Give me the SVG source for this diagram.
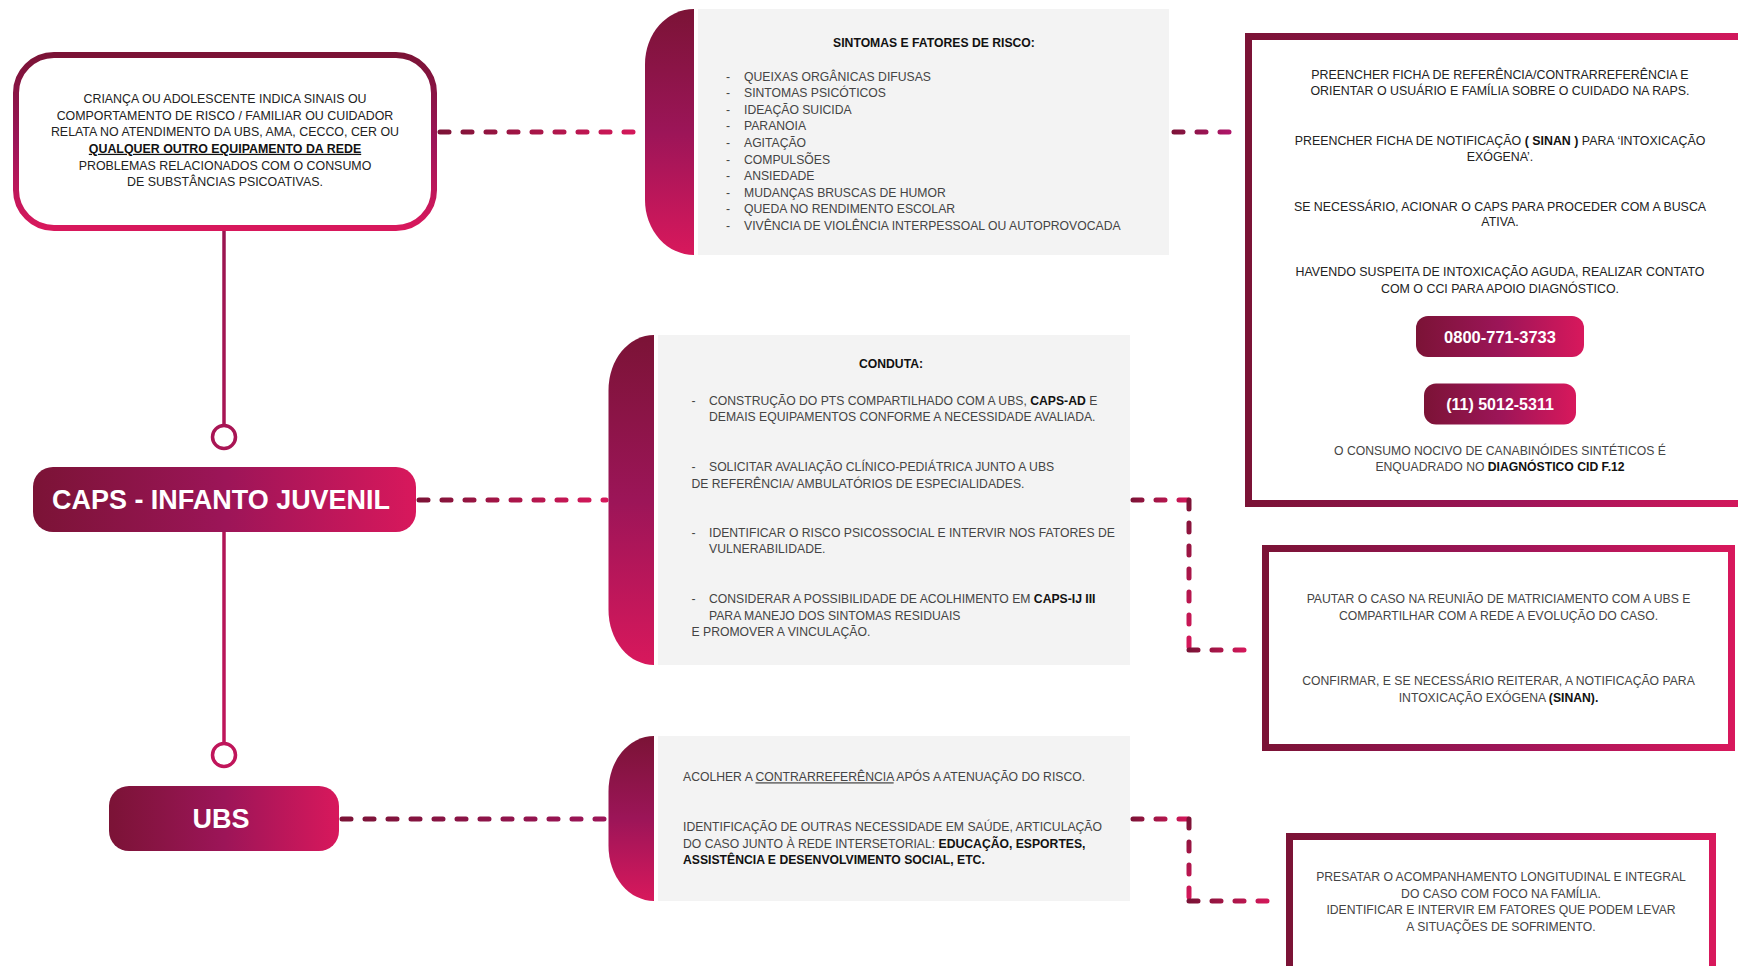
<svg xmlns="http://www.w3.org/2000/svg" width="1738" height="966" viewBox="0 0 1738 966">
<defs>
<linearGradient id="gH" x1="0" y1="0" x2="1" y2="0"><stop offset="0" stop-color="#7b1336"/><stop offset="0.5" stop-color="#9c1558"/><stop offset="1" stop-color="#d8185c"/></linearGradient>
<linearGradient id="gV" x1="0" y1="0" x2="0" y2="1"><stop offset="0" stop-color="#7b1336"/><stop offset="0.5" stop-color="#9c1558"/><stop offset="1" stop-color="#d8185c"/></linearGradient>
<linearGradient id="c1" gradientUnits="userSpaceOnUse" x1="437" y1="0" x2="645" y2="0"><stop offset="0" stop-color="#7b1336"/><stop offset="1" stop-color="#d8185c"/></linearGradient>
<linearGradient id="c2" gradientUnits="userSpaceOnUse" x1="1170" y1="0" x2="1232" y2="0"><stop offset="0" stop-color="#7b1336"/><stop offset="1" stop-color="#b0156a"/></linearGradient>
<linearGradient id="c3" gradientUnits="userSpaceOnUse" x1="416" y1="0" x2="608" y2="0"><stop offset="0" stop-color="#7b1336"/><stop offset="1" stop-color="#d8185c"/></linearGradient>
<linearGradient id="c4" gradientUnits="userSpaceOnUse" x1="1130" y1="0" x2="1190" y2="0"><stop offset="0" stop-color="#7b1336"/><stop offset="1" stop-color="#d8185c"/></linearGradient>
<linearGradient id="c5" gradientUnits="userSpaceOnUse" x1="0" y1="500" x2="0" y2="650"><stop offset="0" stop-color="#7b1336"/><stop offset="1" stop-color="#d8185c"/></linearGradient>
<linearGradient id="c6" gradientUnits="userSpaceOnUse" x1="1190" y1="0" x2="1248" y2="0"><stop offset="0" stop-color="#7b1336"/><stop offset="1" stop-color="#d8185c"/></linearGradient>
<linearGradient id="c7" gradientUnits="userSpaceOnUse" x1="339" y1="0" x2="608" y2="0"><stop offset="0" stop-color="#7b1336"/><stop offset="1" stop-color="#9c1558"/></linearGradient>
<linearGradient id="c8" gradientUnits="userSpaceOnUse" x1="0" y1="819" x2="0" y2="901"><stop offset="0" stop-color="#7b1336"/><stop offset="1" stop-color="#d8185c"/></linearGradient>
<linearGradient id="c9" gradientUnits="userSpaceOnUse" x1="1190" y1="0" x2="1273" y2="0"><stop offset="0" stop-color="#7b1336"/><stop offset="1" stop-color="#d8185c"/></linearGradient>
<linearGradient id="cv" gradientUnits="userSpaceOnUse" x1="0" y1="231" x2="0" y2="786"><stop offset="0" stop-color="#9a1550"/><stop offset="1" stop-color="#c2155b"/></linearGradient>
</defs>
<style>
text { font-family: "Liberation Sans", Arial, sans-serif; }
.t { font-size: 12.2px; fill: #444; }
.m { font-size: 12.4px; fill: #222; }
.c { text-anchor: middle; }
.b { font-weight: 700; fill: #111; }
.w { font-weight: 700; fill: #fff; }
.dash { fill: none; stroke-width: 5; stroke-linecap: round; stroke-dasharray: 9 14; }
.vl { fill: none; stroke: url(#cv); stroke-width: 3.5; }
.grey { fill: #f3f3f3; }
</style>
<rect width="1738" height="966" fill="#fff"/>

<g id="connectors">
<line class="dash" x1="440" y1="132" x2="642" y2="132" stroke="url(#c1)"/>
<line class="dash" x1="1174" y1="132" x2="1230" y2="132" stroke="url(#c2)"/>
<line class="dash" x1="419" y1="500" x2="606" y2="500" stroke="url(#c3)"/>
<line class="dash" x1="1133" y1="500" x2="1189" y2="500" stroke="url(#c4)"/>
<line class="dash" x1="1189" y1="500" x2="1189" y2="650" stroke="url(#c5)"/>
<line class="dash" x1="1189" y1="650" x2="1246" y2="650" stroke="url(#c6)"/>
<line class="dash" x1="342" y1="819" x2="606" y2="819" stroke="url(#c7)"/>
<line class="dash" x1="1133" y1="819" x2="1189" y2="819" stroke="url(#c4)"/>
<line class="dash" x1="1189" y1="819" x2="1189" y2="901" stroke="url(#c8)"/>
<line class="dash" x1="1189" y1="901" x2="1271" y2="901" stroke="url(#c9)"/>
<line class="vl" x1="224" y1="231" x2="224" y2="426"/>
<circle cx="224" cy="437" r="11.5" fill="#fff" stroke="url(#cv)" stroke-width="3.5"/>
<line class="vl" x1="224" y1="532" x2="224" y2="744"/>
<circle cx="224" cy="755" r="11.5" fill="#fff" stroke="url(#cv)" stroke-width="3.5"/>
</g>

<g id="node-start">
<rect x="16" y="55" width="418" height="173" rx="38" fill="#fff" stroke="url(#gV)" stroke-width="6"/>
<text class="m c" x="225" y="103">CRIANÇA OU ADOLESCENTE INDICA SINAIS OU</text>
<text class="m c" x="225" y="119.6">COMPORTAMENTO DE RISCO / FAMILIAR OU CUIDADOR</text>
<text class="m c" x="225" y="136.2">RELATA NO ATENDIMENTO DA UBS, AMA, CECCO, CER OU</text>
<text class="m c b" x="225" y="152.8" text-decoration="underline">QUALQUER OUTRO EQUIPAMENTO DA REDE</text>
<text class="m c" x="225" y="169.5">PROBLEMAS RELACIONADOS COM O CONSUMO</text>
<text class="m c" x="225" y="186">DE SUBSTÂNCIAS PSICOATIVAS.</text>
</g>

<g id="node-sintomas">
<path d="M694 9 V255 A49 55 0 0 1 645 200 V64 A49 55 0 0 1 694 9 Z" fill="url(#gV)"/>
<rect class="grey" x="698" y="9" width="471" height="246"/>
<text class="t c b" x="934" y="46.5">SINTOMAS E FATORES DE RISCO:</text>
<g class="t">
<text x="726" y="80.5">-</text><text x="744" y="80.5">QUEIXAS ORGÂNICAS DIFUSAS</text>
<text x="726" y="97.1">-</text><text x="744" y="97.1">SINTOMAS PSICÓTICOS</text>
<text x="726" y="113.7">-</text><text x="744" y="113.7">IDEAÇÃO SUICIDA</text>
<text x="726" y="130.3">-</text><text x="744" y="130.3">PARANOIA</text>
<text x="726" y="146.9">-</text><text x="744" y="146.9">AGITAÇÃO</text>
<text x="726" y="163.5">-</text><text x="744" y="163.5">COMPULSÕES</text>
<text x="726" y="180.1">-</text><text x="744" y="180.1">ANSIEDADE</text>
<text x="726" y="196.7">-</text><text x="744" y="196.7">MUDANÇAS BRUSCAS DE HUMOR</text>
<text x="726" y="213.3">-</text><text x="744" y="213.3">QUEDA NO RENDIMENTO ESCOLAR</text>
<text x="726" y="229.9">-</text><text x="744" y="229.9">VIVÊNCIA DE VIOLÊNCIA INTERPESSOAL OU AUTOPROVOCADA</text>
</g>
</g>

<g id="node-encaminhamento">
<rect x="1248.5" y="36.5" width="520" height="467" fill="#fff" stroke="url(#gH)" stroke-width="7"/>
<text class="m c" x="1500" y="78.6">PREENCHER FICHA DE REFERÊNCIA/CONTRARREFERÊNCIA E</text>
<text class="m c" x="1500" y="95.2">ORIENTAR O USUÁRIO E FAMÍLIA SOBRE O CUIDADO NA RAPS.</text>
<text class="m c" x="1500" y="145.1">PREENCHER FICHA DE NOTIFICAÇÃO <tspan class="b">( SINAN )</tspan> PARA ‘INTOXICAÇÃO</text>
<text class="m c" x="1500" y="160.6">EXÓGENA’.</text>
<text class="m c" x="1500" y="210.5">SE NECESSÁRIO, ACIONAR O CAPS PARA PROCEDER COM A BUSCA</text>
<text class="m c" x="1500" y="226">ATIVA.</text>
<text class="m c" x="1500" y="275.9">HAVENDO SUSPEITA DE INTOXICAÇÃO AGUDA, REALIZAR CONTATO</text>
<text class="m c" x="1500" y="292.5">COM O CCI PARA APOIO DIAGNÓSTICO.</text>
<rect x="1416" y="316" width="168" height="41" rx="12" fill="url(#gH)"/>
<text class="w c" x="1500" y="342.5" font-size="16.5">0800-771-3733</text>
<rect x="1424" y="383.5" width="152" height="41" rx="12" fill="url(#gH)"/>
<text class="w c" x="1500" y="410" font-size="16">(11) 5012-5311</text>
<text class="t c" x="1500" y="455.3">O CONSUMO NOCIVO DE CANABINÓIDES SINTÉTICOS É</text>
<text class="t c" x="1500" y="470.9">ENQUADRADO NO <tspan class="b">DIAGNÓSTICO CID F.12</tspan></text>
</g>

<g id="node-caps">
<rect x="33" y="467" width="383" height="65" rx="20" fill="url(#gH)"/>
<text class="w" x="52" y="509" font-size="27" textLength="338" lengthAdjust="spacingAndGlyphs">CAPS - INFANTO JUVENIL</text>
</g>

<g id="node-conduta">
<path d="M654 335 V665 A45.5 55 0 0 1 608.5 610 V390 A45.5 55 0 0 1 654 335 Z" fill="url(#gV)"/>
<rect class="grey" x="658" y="335" width="472" height="330"/>
<text class="t c b" x="891" y="368">CONDUTA:</text>
<g class="t">
<text x="691.5" y="405.3">-</text><text x="709" y="405.3">CONSTRUÇÃO DO PTS COMPARTILHADO COM A UBS, <tspan class="b">CAPS-AD</tspan> E</text>
<text x="709" y="421.1">DEMAIS EQUIPAMENTOS CONFORME A NECESSIDADE AVALIADA.</text>
<text x="691.5" y="470.9">-</text><text x="709" y="470.9">SOLICITAR AVALIAÇÃO CLÍNICO-PEDIÁTRICA JUNTO A UBS</text>
<text x="691.5" y="487.6">DE REFERÊNCIA/ AMBULATÓRIOS DE ESPECIALIDADES.</text>
<text x="691.5" y="537.3">-</text><text x="709" y="537.3">IDENTIFICAR O RISCO PSICOSSOCIAL E INTERVIR NOS FATORES DE</text>
<text x="709" y="553">VULNERABILIDADE.</text>
<text x="691.5" y="602.8">-</text><text x="709" y="602.8">CONSIDERAR A POSSIBILIDADE DE ACOLHIMENTO EM <tspan class="b">CAPS-IJ III</tspan></text>
<text x="709" y="619.5">PARA MANEJO DOS SINTOMAS RESIDUAIS</text>
<text x="691.5" y="636.1">E PROMOVER A VINCULAÇÃO.</text>
</g>
</g>

<g id="node-matriciamento">
<rect x="1265.5" y="548.5" width="466" height="199" fill="#fff" stroke="url(#gH)" stroke-width="7"/>
<text class="t c" x="1498.5" y="602.8">PAUTAR O CASO NA REUNIÃO DE MATRICIAMENTO COM A UBS E</text>
<text class="t c" x="1498.5" y="619.5">COMPARTILHAR COM A REDE A EVOLUÇÃO DO CASO.</text>
<text class="t c" x="1498.5" y="684.9">CONFIRMAR, E SE NECESSÁRIO REITERAR, A NOTIFICAÇÃO PARA</text>
<text class="t c" x="1498.5" y="701.5">INTOXICAÇÃO EXÓGENA <tspan class="b">(SINAN).</tspan></text>
</g>

<g id="node-ubs">
<rect x="109" y="786" width="230" height="65" rx="20" fill="url(#gH)"/>
<text class="w c" x="221" y="828" font-size="27">UBS</text>
</g>

<g id="node-acolher">
<path d="M654 736 V901 A45.5 55 0 0 1 608.5 846 V791 A45.5 55 0 0 1 654 736 Z" fill="url(#gV)"/>
<rect class="grey" x="658" y="736" width="472" height="165"/>
<g class="t">
<text x="683" y="781.3">ACOLHER A <tspan text-decoration="underline">CONTRARREFERÊNCIA</tspan> APÓS A ATENUAÇÃO DO RISCO.</text>
<text x="683" y="831.2">IDENTIFICAÇÃO DE OUTRAS NECESSIDADE EM SAÚDE, ARTICULAÇÃO</text>
<text x="683" y="847.8">DO CASO JUNTO À REDE INTERSETORIAL: <tspan class="b">EDUCAÇÃO, ESPORTES,</tspan></text>
<text x="683" y="864.4" class="b">ASSISTÊNCIA E DESENVOLVIMENTO SOCIAL, ETC.</text>
</g>
</g>

<g id="node-longitudinal">
<rect x="1289.5" y="836.5" width="423" height="200" fill="#fff" stroke="url(#gH)" stroke-width="7"/>
<text class="t c" x="1501" y="881">PRESATAR O ACOMPANHAMENTO LONGITUDINAL E INTEGRAL</text>
<text class="t c" x="1501" y="897.7">DO CASO COM FOCO NA FAMÍLIA.</text>
<text class="t c" x="1501" y="914.3">IDENTIFICAR E INTERVIR EM FATORES QUE PODEM LEVAR</text>
<text class="t c" x="1501" y="930.9">A SITUAÇÕES DE SOFRIMENTO.</text>
</g>
</svg>
